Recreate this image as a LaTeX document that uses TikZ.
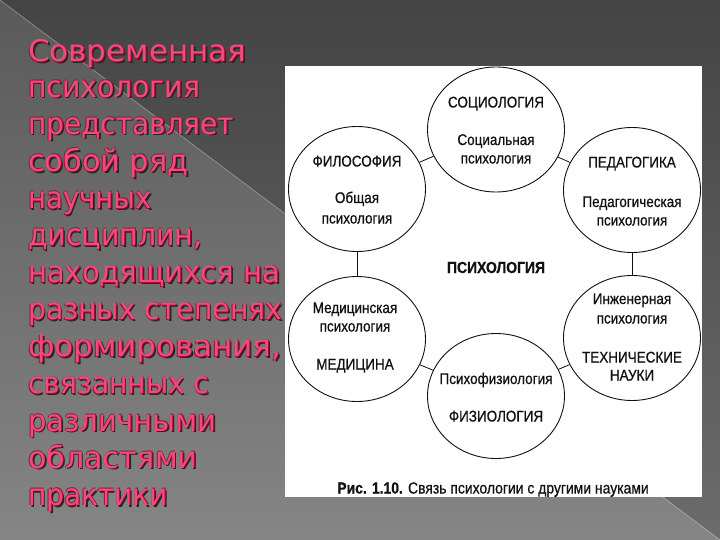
\documentclass[tikz,border=0pt]{standalone}
\usepackage{fontspec}
\usepackage{graphicx}
\usetikzlibrary{shapes.geometric}
\newfontfamily\ttlfont{DejaVu Sans}
\newfontfamily\dgfont[FakeStretch=0.87,FakeBold=0.7]{Liberation Sans}
\definecolor{bgUa}{HTML}{444444}
\definecolor{bgUb}{HTML}{6C6C6C}
\definecolor{bgLa}{HTML}{5A5A5A}
\definecolor{bgLb}{HTML}{858585}
\definecolor{tfill}{HTML}{EF4C7E}
\definecolor{toutline}{HTML}{9E1239}
\definecolor{tshadow}{HTML}{262626}
\definecolor{ink}{HTML}{111111}
\newcommand{\tlayer}[4]{\rlap{\hspace*{#1}\raisebox{#2}{\textcolor{#3}{#4}}}}
\newcommand{\ttl}[1]{\tlayer{1.8pt}{-1.8pt}{tshadow}{#1}\tlayer{0.6pt}{0.6pt}{toutline}{#1}\tlayer{-0.6pt}{-0.6pt}{toutline}{#1}\textcolor{tfill}{#1}}
\newcommand{\tline}[4]{\node[tl] (#1) at (28,#2) {\resizebox{#3pt}{\height}{\ttl{#4}}};}
\tikzset{
  tl/.style={anchor=base west, inner sep=0pt, font=\ttlfont\fontsize{30}{36}\selectfont},
  disc/.style={draw=ink, line width=0.9pt, ellipse, minimum width=137pt, minimum height=125pt, inner sep=0pt},
  link/.style={draw=ink, line width=0.8pt},
  lab/.style={anchor=base, inner sep=0pt, text=ink, font=\dgfont\fontsize{15.5}{18}\selectfont},
  labb/.style={lab, font=\dgfont\bfseries\fontsize{16}{19}\selectfont},
  figcap/.style={anchor=base, inner sep=0pt, text=ink, font=\dgfont\fontsize{16}{19}\selectfont}
}
\begin{document}
\begin{tikzpicture}[x=1pt, y=-1pt]
\useasboundingbox (0,0) rectangle (720,540);
% background
\shade[top color=bgUa, bottom color=bgUb] (0,0) -- (720,0) -- (720,540) -- cycle;
\shade[top color=bgLa, bottom color=bgLb] (0,0) -- (720,540) -- (0,540) -- cycle;
\draw[white, opacity=0.18, line width=1pt] (0,0) -- (720,540);
% panel
\fill[white] (285,66) rectangle (702,497);
% circles
\node[disc] (soc) at (496,129.5) {};
\node[disc] (fil) at (357,189) {};
\node[disc] (ped) at (632,190) {};
\node[disc] (med) at (357,339) {};
\node[disc] (eng) at (632,338) {};
\node[disc] (psy) at (496,396) {};
\draw[link] (fil) -- (soc);
\draw[link] (soc) -- (ped);
\draw[link] (fil) -- (med);
\draw[link] (ped) -- (eng);
\draw[link] (med) -- (psy);
\draw[link] (psy) -- (eng);
% labels
\node[lab] (socA) at (496,107.5) {СОЦИОЛОГИЯ};
\node[lab] (socB) at (496,145) {Социальная};
\node[lab] (socC) at (496,163.5) {психология};
\node[lab] (filA) at (357,166.5) {ФИЛОСОФИЯ};
\node[lab] (filB) at (357,203) {Общая};
\node[lab] (filC) at (357,223.5) {психология};
\node[lab] (pedA) at (632,167.5) {ПЕДАГОГИКА};
\node[lab] (pedB) at (632,207) {Педагогическая};
\node[lab] (pedC) at (632,225.5) {психология};
\node[lab] (medA) at (355,313) {Медицинская};
\node[lab] (medB) at (355,331.5) {психология};
\node[lab] (medC) at (355,369.5) {МЕДИЦИНА};
\node[lab] (engA) at (632,304) {Инженерная};
\node[lab] (engB) at (632,323.5) {психология};
\node[lab] (engC) at (632,362.5) {ТЕХНИЧЕСКИЕ};
\node[lab] (engD) at (632,380.5) {НАУКИ};
\node[lab] (psyA) at (496,384) {Психофизиология};
\node[lab] (psyB) at (496,421.5) {ФИЗИОЛОГИЯ};
\node[labb] (core) at (496,273) {ПСИХОЛОГИЯ};
\node[figcap] (caption) at (493,493.5) {\textbf{Рис. 1.10.} Связь психологии с другими науками};
% title text
\tline{l0}{62}{218}{Современная}
\tline{l1}{97.1}{172}{психология}
\tline{l2}{134.2}{206}{представляет}
\tline{l3}{171.3}{160}{собой ряд}
\tline{l4}{208.4}{123.5}{научных}
\tline{l5}{245.5}{174}{дисциплин,}
\tline{l6}{282.6}{252}{находящихся на}
\tline{l7}{319.7}{254}{разных степенях}
\tline{l8}{356.8}{253}{формирования,}
\tline{l9}{393.9}{181}{связанных с}
\tline{l10}{431}{188}{различными}
\tline{l11}{468.1}{169}{областями}
\tline{l12}{505.2}{139.6}{практики}
\end{tikzpicture}
\end{document}
